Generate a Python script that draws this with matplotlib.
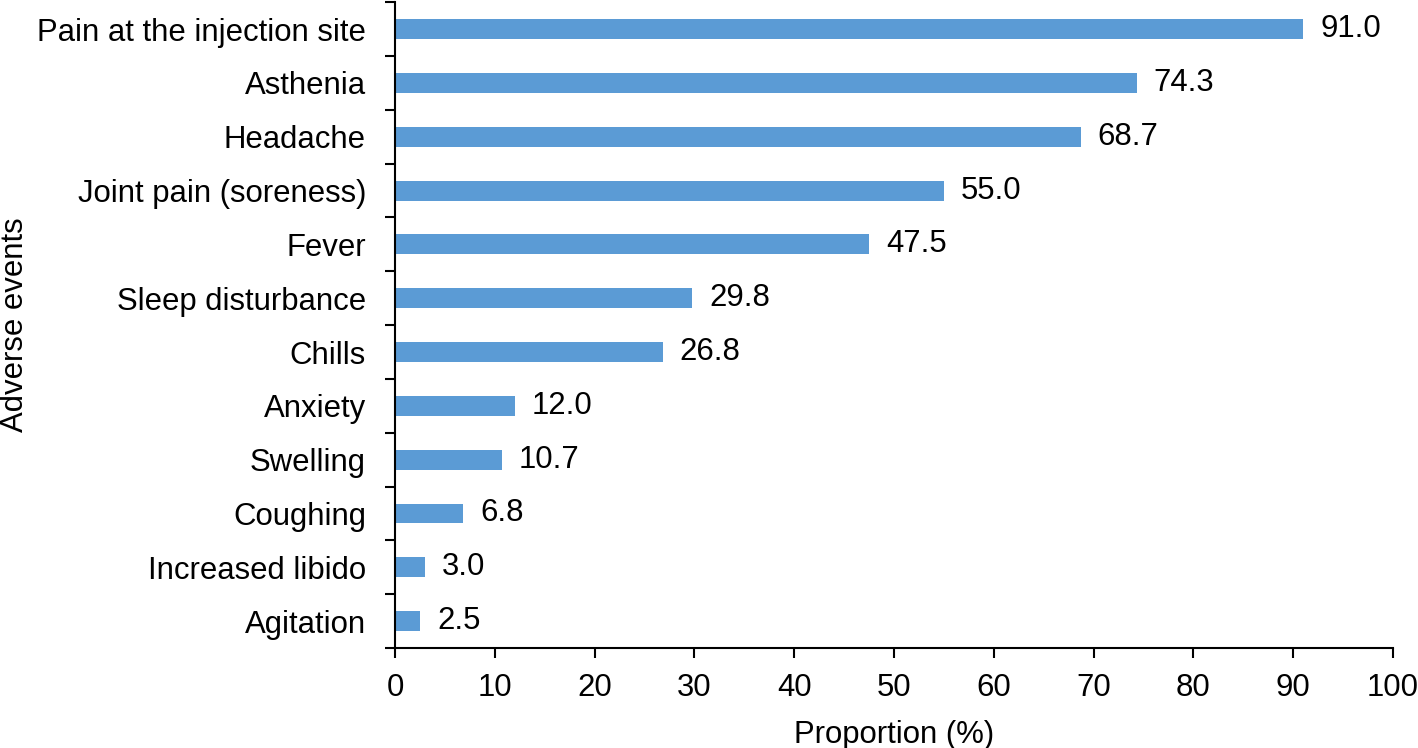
import matplotlib
matplotlib.use("Agg")
import matplotlib.pyplot as plt
import numpy as np

categories = ["Pain at the injection site", "Asthenia", "Headache", "Joint pain (soreness)",
              "Fever", "Sleep disturbance", "Chills", "Anxiety", "Swelling", "Coughing",
              "Increased libido", "Agitation"]
values = [91.0, 74.3, 68.7, 55.0, 47.5, 29.8, 26.8, 12.0, 10.7, 6.8, 3.0, 2.5]
xticks = [0, 10, 20, 30, 40, 50, 60, 70, 80, 90, 100]

plt.rcParams['font.family'] = ['Liberation Sans', 'DejaVu Sans']
FS = 22.4

fig = plt.figure(figsize=(14.18, 7.48), dpi=100)
ax = fig.add_axes([0.2786, 0.1337, 0.7038, 0.8633])

n = len(categories)
y = np.arange(n)
ax.barh(y, values, height=0.37, color='#5B9BD5')
for yi, v in zip(y, values):
    ax.text(v + 1.7, yi, f"{v:.1f}", va='center', ha='left', fontsize=FS)

ax.set_ylim(n - 0.5, -0.5)
ax.set_xlim(0, 100)
ax.set_xticks(xticks)
ax.set_xticklabels([str(t) for t in xticks], fontsize=FS)
ax.set_yticks(y)
ax.set_yticklabels(categories, fontsize=FS)
ax.tick_params(axis='y', which='major', length=0, pad=21)
ax.set_yticks(np.arange(-0.5, n, 1.0), minor=True)
ax.tick_params(axis='y', which='minor', length=7, width=1.5, direction='out')
ax.tick_params(axis='x', which='major', length=7, width=1.5, direction='out', pad=11)

for s in ['top', 'right']:
    ax.spines[s].set_visible(False)
for s in ['left', 'bottom']:
    ax.spines[s].set_linewidth(1.5)

ax.set_xlabel("Proportion (%)", fontsize=FS, labelpad=12)
ax.set_ylabel("Adverse events", fontsize=FS, labelpad=5)

fig.savefig("out.png", dpi=100)
